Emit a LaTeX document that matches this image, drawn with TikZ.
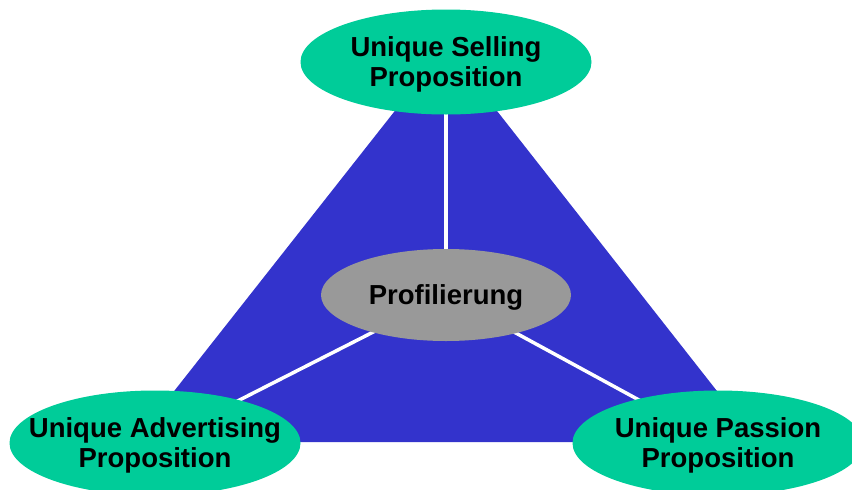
\documentclass[tikz,border=0pt]{standalone}
\usepackage{fontspec}
\setmainfont{Liberation Sans}
\usetikzlibrary{shapes.geometric,backgrounds}
\definecolor{triblue}{RGB}{51,51,204}
\definecolor{propgreen}{RGB}{0,204,153}
\definecolor{profgray}{RGB}{153,153,153}
\tikzset{
  prop/.style={ellipse, fill=propgreen, minimum width=291pt, minimum height=105pt,
    inner sep=-200pt, text depth=0pt, align=center, font=\fontsize{27.5}{30}\selectfont\bfseries},
  core/.style={ellipse, fill=profgray, minimum width=250pt, minimum height=92pt,
    inner sep=-200pt, text depth=0pt, font=\fontsize{27.5}{30}\selectfont\bfseries},
  spoke/.style={white, line width=3.5pt}
}
\begin{document}
\begin{tikzpicture}[x=1pt,y=-1pt]
    \useasboundingbox (0,0) rectangle (852,490);
    %corners of the triangle
    \coordinate (apex) at (446,46);
    \coordinate (left) at (134,442);
    \coordinate (right) at (757,442);
    %the four ellipses
    \node[prop] (usp) at (446,62) {Unique Selling\\Proposition};
    \node[prop] (uap) at (155,443) {Unique Advertising\\Proposition};
    \node[prop] (upp) at (718,443) {Unique Passion\\Proposition};
    \node[core] (prof) at (446,295) {Profilierung};
    %triangle and white spokes behind the ellipses
    \begin{scope}[on background layer]
        \fill[triblue] (apex) -- (left) -- (right) -- cycle;
        \draw[spoke] (usp.center) -- (prof.center);
        \draw[spoke] (prof.center) -- (uap.center);
        \draw[spoke] (prof.center) -- (upp.center);
    \end{scope}
\end{tikzpicture}
\end{document}
